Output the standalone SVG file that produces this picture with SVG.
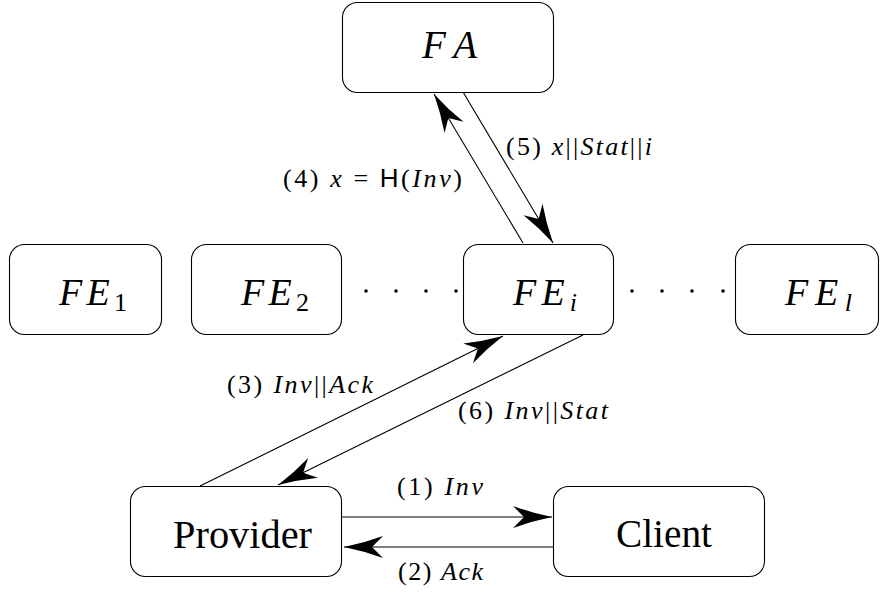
<svg xmlns="http://www.w3.org/2000/svg" width="880" height="594" viewBox="0 0 880 594">
<style>
text{font-family:"Liberation Serif","Times New Roman",serif;fill:#000}
.box{fill:#fff;stroke:#000;stroke-width:1.1}
.big{font-size:40px}
.mi{font-style:italic;font-size:39px}
.fe{font-style:italic;font-size:38px}
.lbl{font-size:26px}
.it{font-style:italic}
.up{font-style:normal}
.sf{font-family:"Liberation Sans",Arial,sans-serif;font-style:normal}
.con{stroke:#000;stroke-width:1.1;fill:none;marker-end:url(#ah)}
.dot{fill:#000}
</style>
<defs>
<marker id="ah" markerUnits="userSpaceOnUse" viewBox="-40 -12 41 24" markerWidth="41" markerHeight="24" refX="0" refY="0" orient="auto">
<path d="M0,0 Q-20,-4 -39,-11 L-28,0 L-39,11 Q-20,4 0,0 Z" fill="#000"/>
</marker>
</defs>
<rect width="880" height="594" fill="#fff"/>
<g id="connectors">
<line class="con" x1="523" y1="243" x2="434" y2="94"/>
<line class="con" x1="463" y1="92" x2="553" y2="243"/>
<line class="con" x1="200" y1="486" x2="503" y2="336"/>
<line class="con" x1="583" y1="335" x2="278" y2="485"/>
<line class="con" x1="342" y1="517" x2="552" y2="517"/>
<line class="con" x1="553" y1="547" x2="344" y2="547"/>
<text class="lbl" x="283" y="187" textLength="179" lengthAdjust="spacing">(4) <tspan class="it">x</tspan> = <tspan class="sf">H</tspan>(<tspan class="it">Inv</tspan>)</text>
<text class="lbl" x="506" y="155" textLength="146" lengthAdjust="spacing">(5) <tspan class="it">x</tspan>||<tspan class="it">Stat</tspan>||<tspan class="it">i</tspan></text>
<text class="lbl" x="227" y="393" textLength="146" lengthAdjust="spacing">(3) <tspan class="it">Inv</tspan>||<tspan class="it">Ack</tspan></text>
<text class="lbl" x="458" y="419" textLength="150" lengthAdjust="spacing">(6) <tspan class="it">Inv</tspan>||<tspan class="it">Stat</tspan></text>
<text class="lbl" x="397" y="495" textLength="86" lengthAdjust="spacing">(1) <tspan class="it">Inv</tspan></text>
<text class="lbl" x="398" y="580" textLength="85" lengthAdjust="spacing">(2) <tspan class="it">Ack</tspan></text>
</g>
<g id="dots">
<circle class="dot" cx="366" cy="291" r="1.8"/>
<circle class="dot" cx="396" cy="291" r="1.8"/>
<circle class="dot" cx="426" cy="291" r="1.8"/>
<circle class="dot" cx="456" cy="291" r="1.8"/>
<circle class="dot" cx="632" cy="291" r="1.8"/>
<circle class="dot" cx="662" cy="291" r="1.8"/>
<circle class="dot" cx="692" cy="291" r="1.8"/>
<circle class="dot" cx="723" cy="291" r="1.8"/>
</g>
<g id="FA">
<rect class="box" x="342.5" y="2.5" width="211" height="90" rx="15"/>
<text class="mi" x="422" y="58" textLength="55" lengthAdjust="spacing">FA</text>
</g>
<g id="FE1">
<rect class="box" x="9.5" y="244.5" width="152" height="90" rx="15"/>
<text class="fe" x="59" y="305" textLength="68" lengthAdjust="spacing">FE<tspan class="up" font-size="26" dy="6">1</tspan></text>
</g>
<g id="FE2">
<rect class="box" x="191.5" y="244.5" width="150" height="90" rx="15"/>
<text class="fe" x="241" y="305" textLength="68" lengthAdjust="spacing">FE<tspan class="up" font-size="26" dy="6">2</tspan></text>
</g>
<g id="FEi">
<rect class="box" x="463.5" y="244.5" width="150" height="90" rx="15"/>
<text class="fe" x="513" y="305" textLength="64" lengthAdjust="spacing">FE<tspan font-size="26" dy="6">i</tspan></text>
</g>
<g id="FEl">
<rect class="box" x="735.5" y="244.5" width="143" height="90" rx="15"/>
<text class="fe" x="785" y="305" textLength="67" lengthAdjust="spacing">FE<tspan font-size="26" dy="6">l</tspan></text>
</g>
<g id="Provider">
<rect class="box" x="130.5" y="486.5" width="211" height="90" rx="15"/>
<text class="big" x="173" y="548" textLength="139" lengthAdjust="spacingAndGlyphs">Provider</text>
</g>
<g id="Client">
<rect class="box" x="553.5" y="486.5" width="211" height="90" rx="15"/>
<text class="big" x="616" y="547" textLength="96" lengthAdjust="spacingAndGlyphs">Client</text>
</g>
</svg>
